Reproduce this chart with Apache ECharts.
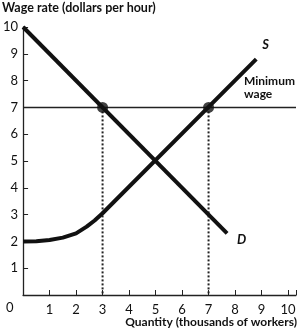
<!DOCTYPE html>
<html><head><meta charset="utf-8">
<script src="https://cdn.jsdelivr.net/npm/echarts@6/dist/echarts.min.js"></script>
<style>html,body{margin:0;padding:0;background:#fff}#c{width:299px;height:333px}</style>
</head><body><div id="c"></div>
<script>
const xTicks = [1,2,3,4,5,6,7,8,9,10];
const yTicks = [1,2,3,4,5,6,7,8,9,10];
const supply = [[0,2],[0.5,2.01],[1,2.05],[1.5,2.14],[2,2.3],[2.4,2.55],[2.7,2.78],[3,3.05],[8.8,8.8]];
const demand = [[0,10],[7.7,2.3]];
const minWage = [[0,7],[10.3,7]];
const equilibriumPts = [[3,7],[7,7]];
const dotted3 = [[3,7],[3,0]];
const dotted7 = [[7,7],[7,0]];
const FONT = 'Lato';
const chart = echarts.init(document.getElementById('c'));
chart.setOption({
  animation:false,
  grid:{left:18,right:2,top:27,bottom:38},
  xAxis:{type:'value',min:0,max:10.3,interval:1,
    axisLine:{lineStyle:{color:'#222',width:1.3}},
    axisTick:{inside:true,length:5,lineStyle:{color:'#222'}},
    splitLine:{show:false},
    axisLabel:{margin:8,color:'#111',fontFamily:FONT,fontSize:13,
      formatter:v=>xTicks.includes(v)?String(v):''}},
  yAxis:{type:'value',min:0,max:10,interval:1,
    axisLine:{show:true,lineStyle:{color:'#222',width:1.3}},
    axisTick:{show:true,inside:true,length:5,lineStyle:{color:'#222'}},
    splitLine:{show:false},
    axisLabel:{margin:5,color:'#111',fontFamily:FONT,fontSize:13,
      formatter:v=>yTicks.includes(v)?String(v):''}},
  series:[
    {type:'line',data:minWage,symbol:'none',lineStyle:{color:'#222',width:1.5},z:2},
    {type:'line',data:dotted3,symbol:'none',lineStyle:{color:'#222',width:2,type:[2,2]},z:2},
    {type:'line',data:dotted7,symbol:'none',lineStyle:{color:'#222',width:2,type:[2,2]},z:2},
    {type:'line',data:demand,symbol:'none',lineStyle:{color:'#111',width:4},z:3,
      endLabel:{show:true,formatter:'D',fontFamily:FONT,fontStyle:'italic',fontWeight:'bold',fontSize:13,color:'#111',offset:[2,6]}},
    {type:'line',data:supply,symbol:'none',lineStyle:{color:'#111',width:4},z:3,
      endLabel:{show:true,formatter:'S',fontFamily:FONT,fontStyle:'italic',fontWeight:'bold',fontSize:13,color:'#111',offset:[-2,-14]}},
    {type:'scatter',data:equilibriumPts,symbolSize:11,itemStyle:{color:'#111'},z:5}
  ],
  graphic:[
    {type:'text',left:2,top:1,style:{text:'Wage rate (dollars per hour)',font:'bold 12.5px '+FONT,fill:'#111'}},
    {type:'text',right:2,top:316,style:{text:'Quantity (thousands of workers)',font:'bold 12px '+FONT,fill:'#111'}},
    {type:'text',left:244,top:75,style:{text:'Minimum\nwage',font:'bold 12px '+FONT,fill:'#111',lineHeight:13}},
    {type:'text',left:6,top:301,style:{text:'0',font:'13px '+FONT,fill:'#111'}}
  ]
});
</script></body></html>
